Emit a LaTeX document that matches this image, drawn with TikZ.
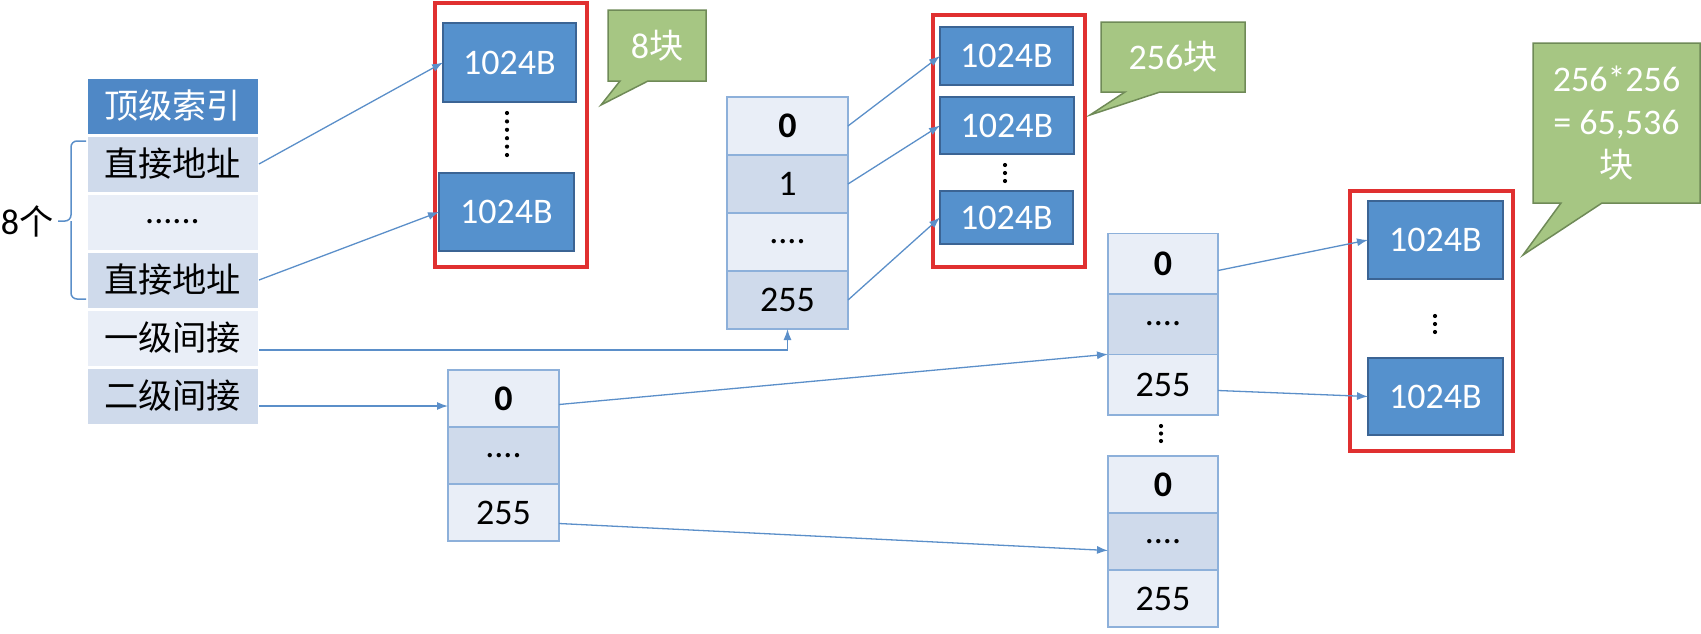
\documentclass[tikz,border=0pt]{standalone}
\usepackage{fontspec}
\setmainfont{Carlito}
\newfontfamily\cjk[Scale=0.95]{Noto Sans CJK SC}
\usepackage{xcolor}
\definecolor{headBlue}{HTML}{4F88C6}
\definecolor{cellLight}{HTML}{E9EEF7}
\definecolor{cellMid}{HTML}{CFDAEB}
\definecolor{cellLine}{HTML}{8DB0DA}
\definecolor{blockBlue}{HTML}{5591CD}
\definecolor{blockLine}{HTML}{3B6494}
\definecolor{frameRed}{HTML}{E03030}
\definecolor{noteGreen}{HTML}{A6C683}
\definecolor{noteLine}{HTML}{6F8A57}
\definecolor{linkBlue}{HTML}{5B8FC9}
\usepackage{tikz}
\usetikzlibrary{arrows.meta, positioning, calc, backgrounds}

\begin{document}
\begin{tikzpicture}[
    x=1pt, y=-1pt,
    node distance=0pt,
    every node/.style={outer sep=0pt, inner sep=0pt},
    txt/.style={font=\fontsize{36}{43}\selectfont},
    % top level index
    idxCell/.style={txt, draw=white, line width=3pt, minimum width=173pt, minimum height=58pt},
    idxHead/.style={idxCell, fill=headBlue, text=white},
    idxLight/.style={idxCell, fill=cellLight},
    idxMid/.style={idxCell, fill=cellMid},
    % index blocks
    ptrCell/.style={txt, draw=cellLine, line width=1.5pt},
    ptrLight/.style={ptrCell, fill=cellLight},
    ptrMid/.style={ptrCell, fill=cellMid},
    % data blocks
    dataBox/.style={txt, fill=blockBlue, draw=blockLine, line width=1.2pt, text=white},
    groupFrame/.style={draw=frameRed, line width=4pt},
    noteText/.style={txt, text=white, align=center},
    noteShape/.style={fill=noteGreen, draw=noteLine, line width=1.5pt},
    link/.style={draw=linkBlue, line width=1.3pt, -{Latex[length=11pt, width=8pt]}}
]
    \useasboundingbox (0,0) rectangle (1701,633);

    % Top level index
    \node (l0) [idxHead] at (172.5,106) {\cjk 顶级索引};
    \node (l1) [idxMid, below=of l0] {\cjk 直接地址};
    \node (l2) [idxLight, below=of l1] {......};
    \node (l3) [idxMid, below=of l2] {\cjk 直接地址};
    \node (l4) [idxLight, below=of l3] {\cjk 一级间接};
    \node (l5) [idxMid, below=of l4] {\cjk 二级间接};

    \draw [linkBlue, line width=1.5pt, rounded corners=6pt] ($(l1.north west)+(0,6)$) -| (71,221) -- (58,221);
    \draw [linkBlue, line width=1.5pt, rounded corners=6pt] (71,221) |- ($(l3.south west)+(0,-10)$);
    \node (cnt) [txt] at (27,221) {8{\cjk 个}};

    % Direct blocks
    \node (f1) [groupFrame, minimum width=151.5pt, minimum height=264pt] at (510.75,135) {};
    \node (a1) [dataBox, minimum width=133pt, minimum height=79pt] at (509.5,62.5) {1024B};
    \node (a2) [dataBox, minimum width=135pt, minimum height=78pt] at (506.5,212) {1024B};
    \foreach \k in {0,...,5}
        \fill (507,113+8.4*\k) circle (2.1pt);

    % Single indirect block
    \begin{scope}[every node/.append style={minimum width=121pt, minimum height=58pt}]
        \node (m0) [ptrLight] at (787.5,126) {\textbf{0}};
        \node (m1) [ptrMid, below=of m0] {1};
        \node (m2) [ptrLight, below=of m1] {....};
        \node (m3) [ptrMid, below=of m2] {255};
    \end{scope}

    \node (f2) [groupFrame, minimum width=152.5pt, minimum height=252pt] at (1008.75,141) {};
    \node (d1) [dataBox, minimum width=133pt, minimum height=58pt] at (1006.5,56) {1024B};
    \node (d2) [dataBox, minimum width=134pt, minimum height=57pt] at (1007,125.5) {1024B};
    \node (d3) [dataBox, minimum width=133pt, minimum height=53pt] at (1006.5,217.5) {1024B};
    \foreach \k in {0,1,2}
        \fill (1005,165+8*\k) circle (2.1pt);

    % Double indirect blocks
    \begin{scope}[every node/.append style={minimum width=111pt, minimum height=57pt}]
        \node (b0) [ptrLight] at (503.5,398.5) {\textbf{0}};
        \node (b1) [ptrMid, below=of b0] {....};
        \node (b2) [ptrLight, below=of b1] {255};
    \end{scope}

    \begin{scope}[every node/.append style={minimum width=110pt, minimum height=60.5pt}]
        \node (r0) [ptrLight] at (1163,263.5) {\textbf{0}};
        \node (r1) [ptrMid, below=of r0] {....};
        \node (r2) [ptrLight, below=of r1] {255};
    \end{scope}
    \foreach \k in {0,1,2}
        \fill (1161,426+7.5*\k) circle (2.1pt);

    \begin{scope}[every node/.append style={minimum width=110pt, minimum height=57pt}]
        \node (s0) [ptrLight] at (1163,484.5) {\textbf{0}};
        \node (s1) [ptrMid, below=of s0] {....};
        \node (s2) [ptrLight, below=of s1] {255};
    \end{scope}

    \node (f3) [groupFrame, minimum width=163pt, minimum height=260pt] at (1431,320.5) {};
    \node (e1) [dataBox, minimum width=135pt, minimum height=78pt] at (1435.5,240) {1024B};
    \node (e2) [dataBox, minimum width=135pt, minimum height=77pt] at (1435.5,396.5) {1024B};
    \foreach \k in {0,1,2}
        \fill (1435,316+8*\k) circle (2.1pt);

    % Notes
    \node (n1) [noteText, minimum width=98pt, minimum height=71pt] at (657,45.5) {8{\cjk 块}};
    \node (n2) [noteText, minimum width=144pt, minimum height=70pt] at (1173,57) {256{\cjk 块}};
    \node (n3) [noteText, minimum width=167pt, minimum height=160pt] at (1616.5,123) {256*256\\= 65,536\\{\cjk 块}};
    \begin{scope}[on background layer]
        \draw [noteShape] (n1.north west) -- (n1.north east) -- (n1.south east) -- ([xshift=40pt]n1.south west) -- (601,105) -- ([xshift=12pt]n1.south west) -- (n1.south west) -- cycle;
        \draw [noteShape] (n2.north west) -- (n2.north east) -- (n2.south east) -- ([xshift=59pt]n2.south west) -- (1090,115) -- ([xshift=24pt]n2.south west) -- (n2.south west) -- cycle;
        \draw [noteShape] (n3.north west) -- (n3.north east) -- (n3.south east) -- ([xshift=69pt]n3.south west) -- (1523,255) -- ([xshift=28pt]n3.south west) -- (n3.south west) -- cycle;
    \end{scope}

    % Connect pointers
    \draw [link] (l1.east) -- (a1.west);
    \draw [link] (l3.east) -- (a2.west);
    \draw [link] ([yshift=-12pt]l4.east) -| (m3.south);
    \coordinate (t5) at ([yshift=-10pt]l5.east);
    \draw [link] (t5) -- (t5 -| b0.west);
    \draw [link] (m0.east) -- (d1.west);
    \draw [link] (m1.east) -- (d2.west);
    \draw [link] (m3.east) -- (d3.west);
    \draw [link] ([yshift=-6pt]b0.east) -- (r1.south west);
    \draw [link] ([yshift=-11pt]b2.east) -- ([yshift=-9pt]s1.west);
    \draw [link] ([yshift=-7pt]r0.east) -- (e1.west);
    \draw [link] ([yshift=-6pt]r2.east) -- (e2.west);
\end{tikzpicture}
\end{document}
